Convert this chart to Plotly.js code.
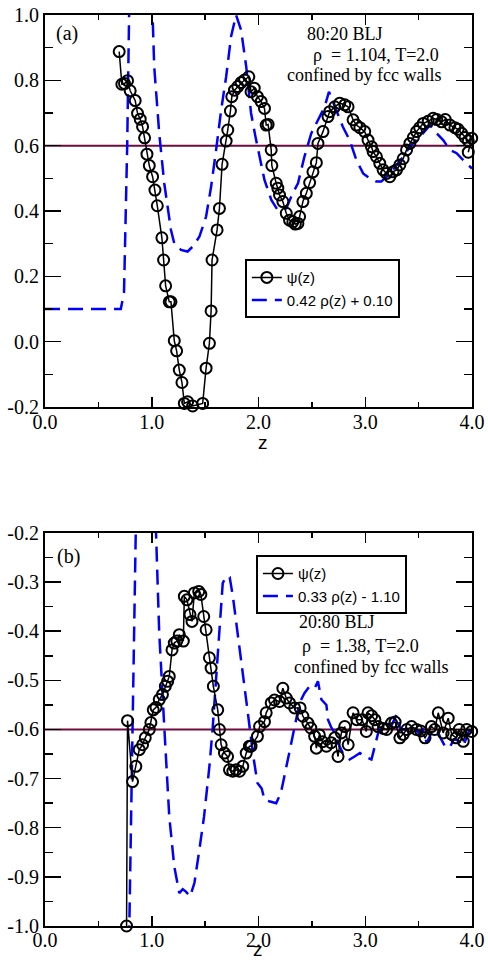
<!DOCTYPE html>
<html>
<head>
<meta charset="utf-8">
<script src="https://cdn.plot.ly/plotly-3.0.1.min.js"></script>
<style>html,body{margin:0;padding:0;background:#fff;}#chart{width:488px;height:962px;}</style>
</head>
<body>
<div id="chart"></div>
<script>
// ---------- Panel (a): 80:20 BLJ ----------
const zPsiA = [0.695,0.72,0.745,0.773,0.798,0.845,0.867,0.892,0.914,0.933,0.955,0.977,1.008,1.03,1.052,1.095,1.111,1.13,1.164,1.18,1.211,1.233,1.258,1.283,1.305,1.336,1.383,1.477,1.509,1.54,1.556,1.565,1.612,1.634,1.659,1.697,1.712,1.737,1.75,1.775,1.806,1.837,1.869,1.909,1.93,1.96,1.99,2.025,2.056,2.072,2.09,2.119,2.125,2.166,2.181,2.197,2.228,2.26,2.291,2.322,2.345,2.369,2.385,2.416,2.448,2.479,2.51,2.542,2.557,2.604,2.651,2.667,2.714,2.761,2.808,2.839,2.886,2.917,2.95,2.995,3.026,3.058,3.073,3.105,3.136,3.167,3.199,3.23,3.26,3.293,3.324,3.355,3.387,3.418,3.45,3.48,3.51,3.543,3.59,3.636,3.67,3.715,3.75,3.793,3.84,3.87,3.903,3.935,3.965,3.997,3.965];
const psiA = [0.888,0.788,0.79,0.799,0.768,0.738,0.699,0.681,0.658,0.624,0.574,0.539,0.505,0.464,0.416,0.318,0.25,0.171,0.122,0.122,0.003,-0.028,-0.087,-0.125,-0.189,-0.184,-0.197,-0.189,-0.081,-0.005,0.094,0.25,0.342,0.408,0.543,0.614,0.648,0.706,0.75,0.77,0.781,0.793,0.801,0.811,0.765,0.776,0.75,0.735,0.714,0.663,0.665,0.587,0.539,0.485,0.47,0.449,0.429,0.393,0.372,0.367,0.36,0.362,0.383,0.429,0.454,0.487,0.52,0.548,0.607,0.643,0.689,0.704,0.719,0.73,0.725,0.719,0.679,0.663,0.655,0.643,0.617,0.597,0.582,0.566,0.546,0.526,0.515,0.505,0.52,0.526,0.541,0.56,0.587,0.607,0.625,0.643,0.655,0.668,0.675,0.684,0.68,0.673,0.68,0.663,0.655,0.65,0.638,0.625,0.615,0.623,0.58];
const zRhoA = [0.0,0.71,0.74,0.77,0.79,0.83,0.9,0.96,1.008,1.023,1.07,1.117,1.18,1.211,1.274,1.336,1.383,1.446,1.509,1.556,1.603,1.65,1.697,1.743,1.79,1.837,1.885,1.93,1.97,2.01,2.056,2.12,2.18,2.26,2.32,2.37,2.43,2.495,2.573,2.62,2.66,2.714,2.79,2.854,2.917,2.98,3.042,3.105,3.15,3.2,3.26,3.355,3.418,3.512,3.606,3.668,3.73,3.793,3.856,3.918,3.98,4.0];
const rhoA = [0.1,0.1,0.15,0.6,1.05,1.6,1.9,1.5,1.0,0.842,0.638,0.485,0.342,0.301,0.281,0.276,0.291,0.321,0.383,0.474,0.587,0.709,0.811,0.934,1.0,0.954,0.842,0.70,0.63,0.566,0.495,0.434,0.403,0.408,0.454,0.485,0.566,0.638,0.689,0.719,0.765,0.719,0.658,0.617,0.556,0.515,0.5,0.49,0.49,0.505,0.526,0.566,0.597,0.627,0.663,0.638,0.617,0.587,0.577,0.556,0.536,0.53];
const refA = 0.6;

// ---------- Panel (b): 20:80 BLJ ----------
const zPsiB = [0.764,0.773,0.82,0.851,0.883,0.914,0.939,0.977,0.992,1.014,1.04,1.07,1.10,1.127,1.149,1.164,1.19,1.211,1.235,1.258,1.296,1.305,1.33,1.358,1.377,1.399,1.44,1.46,1.487,1.509,1.54,1.556,1.577,1.618,1.634,1.65,1.681,1.71,1.728,1.759,1.79,1.822,1.853,1.885,1.915,1.93,1.99,2.01,2.056,2.072,2.119,2.15,2.197,2.228,2.26,2.291,2.338,2.39,2.416,2.463,2.49,2.526,2.542,2.57,2.60,2.636,2.68,2.714,2.745,2.776,2.808,2.84,2.886,2.92,2.97,3.01,3.026,3.06,3.09,3.12,3.17,3.2,3.246,3.28,3.324,3.355,3.39,3.434,3.48,3.52,3.56,3.62,3.65,3.684,3.73,3.777,3.81,3.85,3.88,3.918,3.95,3.997];
const psiB = [-1.0,-0.582,-0.706,-0.675,-0.641,-0.631,-0.617,-0.6,-0.586,-0.56,-0.555,-0.539,-0.529,-0.512,-0.502,-0.492,-0.438,-0.424,-0.42,-0.407,-0.42,-0.329,-0.336,-0.366,-0.38,-0.322,-0.319,-0.325,-0.37,-0.397,-0.454,-0.475,-0.512,-0.56,-0.6,-0.631,-0.648,-0.655,-0.682,-0.685,-0.682,-0.685,-0.675,-0.648,-0.634,-0.634,-0.614,-0.594,-0.584,-0.566,-0.546,-0.54,-0.543,-0.516,-0.536,-0.546,-0.556,-0.556,-0.573,-0.587,-0.597,-0.614,-0.638,-0.611,-0.625,-0.634,-0.627,-0.617,-0.655,-0.607,-0.594,-0.631,-0.566,-0.58,-0.58,-0.604,-0.566,-0.572,-0.58,-0.594,-0.598,-0.6,-0.587,-0.585,-0.617,-0.61,-0.6,-0.594,-0.6,-0.603,-0.617,-0.594,-0.6,-0.566,-0.607,-0.577,-0.61,-0.617,-0.6,-0.624,-0.6,-0.604];
const zRhoB = [0.0,0.75,0.79,0.82,0.85,0.9,0.97,1.04,1.07,1.12,1.164,1.211,1.258,1.29,1.32,1.36,1.40,1.446,1.49,1.54,1.57,1.60,1.634,1.665,1.697,1.73,1.76,1.806,1.853,1.90,1.947,1.99,2.03,2.056,2.10,2.166,2.21,2.26,2.307,2.354,2.385,2.43,2.479,2.526,2.557,2.589,2.636,2.651,2.68,2.714,2.75,2.79,2.854,2.9,2.95,3.0,3.058,3.09,3.136,3.2,3.25,3.293,3.33,3.37,3.40,3.45,3.5,3.54,3.575,3.62,3.67,3.70,3.747,3.79,3.83,3.87,3.918,3.965,3.997];
const rhoB = [-1.1,-1.1,-1.0,-0.6,-0.2,0.3,0.3,-0.2,-0.403,-0.605,-0.777,-0.879,-0.933,-0.925,-0.93,-0.94,-0.912,-0.845,-0.777,-0.675,-0.6,-0.505,-0.403,-0.302,-0.288,-0.29,-0.329,-0.404,-0.492,-0.566,-0.648,-0.709,-0.72,-0.743,-0.746,-0.75,-0.729,-0.675,-0.627,-0.58,-0.546,-0.526,-0.512,-0.516,-0.502,-0.539,-0.55,-0.58,-0.595,-0.607,-0.63,-0.648,-0.661,-0.655,-0.648,-0.655,-0.661,-0.634,-0.594,-0.587,-0.59,-0.57,-0.6,-0.6,-0.594,-0.594,-0.607,-0.6,-0.627,-0.607,-0.6,-0.615,-0.634,-0.637,-0.62,-0.622,-0.634,-0.607,-0.59];
const refB = -0.6;

// ---------- Ticks ----------
const xTickVals = [0,1,2,3,4];
const xTickText = ["0.0","1.0","2.0","3.0","4.0"];
const xMinorVals = [0.5,1.5,2.5,3.5];
const yTickValsA = [-0.2,0,0.2,0.4,0.6,0.8,1.0];
const yTickTextA = ["-0.2","0.0","0.2","0.4","0.6","0.8","1.0"];
const yMinorValsA = [-0.1,0.1,0.3,0.5,0.7,0.9];
const yTickValsB = [-1.0,-0.9,-0.8,-0.7,-0.6,-0.5,-0.4,-0.3,-0.2];
const yTickTextB = ["-1.0","-0.9","-0.8","-0.7","-0.6","-0.5","-0.4","-0.3","-0.2"];
const yMinorValsB = [-0.95,-0.85,-0.75,-0.65,-0.55,-0.45,-0.35,-0.25];

const nameA1 = "ψ(z)";
const nameA2 = "0.42 ρ(z) + 0.10";
const nameB2 = "0.33 ρ(z) - 1.10";
const xTitle = "z";

const SERIF = "Liberation Serif";
const SANS = "Liberation Sans";
const MAROON = "#6e0a3e";
const BLUE = "#0000ff";

function refLine(level, xa, ya) {
  return {x: [xTickVals[0], xTickVals[xTickVals.length-1]], y: [level, level], xaxis: xa, yaxis: ya,
    mode: 'lines', line: {color: MAROON, width: 2}, showlegend: false, hoverinfo: 'skip'};
}

const data = [
  refLine(refA, 'x', 'y'),
  {x: zRhoA, y: rhoA, xaxis: 'x', yaxis: 'y', mode: 'lines', name: nameA2, legend: 'legend', legendrank: 2,
   line: {color: BLUE, width: 2.5, dash: '15px,8px'}},
  {x: zPsiA, y: psiA, xaxis: 'x', yaxis: 'y', mode: 'lines+markers', name: nameA1, legend: 'legend', legendrank: 1,
   cliponaxis: false,
   line: {color: 'black', width: 1.5},
   marker: {symbol: 'circle-open', size: 11, color: 'black', line: {width: 2, color: 'black'}}},
  refLine(refB, 'x2', 'y2'),
  {x: zRhoB, y: rhoB, xaxis: 'x2', yaxis: 'y2', mode: 'lines', name: nameB2, legend: 'legend2', legendrank: 2,
   line: {color: BLUE, width: 2.5, dash: '15px,8px'}},
  {x: zPsiB, y: psiB, xaxis: 'x2', yaxis: 'y2', mode: 'lines+markers', name: nameA1, legend: 'legend2', legendrank: 1,
   cliponaxis: false,
   line: {color: 'black', width: 1.5},
   marker: {symbol: 'circle-open', size: 11, color: 'black', line: {width: 2, color: 'black'}}}
];

function xAxis(anchor, standoff) {
  return {anchor: anchor, domain: [0,1], range: [0,4], tickmode: 'array', tickvals: xTickVals, ticktext: xTickText,
    ticks: 'inside', ticklen: 10, tickwidth: 1.5, tickcolor: 'black', showline: true, linewidth: 2, linecolor: 'black',
    mirror: 'allticks', showgrid: false, zeroline: false, ticklabelstandoff: standoff,
    tickfont: {family: SERIF, size: 20, color: 'black'},
    minor: {tickvals: xMinorVals, ticks: 'inside', ticklen: 5, tickwidth: 1.5, tickcolor: 'black', showgrid: false},
    automargin: false};
}
function yAxis(anchor, domain, range, vals, text, minorVals) {
  return {anchor: anchor, domain: domain, range: range, tickmode: 'array', tickvals: vals, ticktext: text,
    ticks: 'inside', ticklen: 16, tickwidth: 1.5, tickcolor: 'black', showline: true, linewidth: 2, linecolor: 'black',
    mirror: 'allticks', showgrid: false, zeroline: false,
    tickfont: {family: SERIF, size: 20, color: 'black'},
    minor: {tickvals: minorVals, ticks: 'inside', ticklen: 8, tickwidth: 1.5, tickcolor: 'black', showgrid: false},
    automargin: false};
}

const txt = (t, xr, yr, x, y, size) => ({text: t, xref: xr, yref: yr, x: x, y: y, showarrow: false,
  xanchor: 'center', yanchor: 'middle', font: {family: SERIF, size: size || 18, color: 'black'}});
const ztitle = (xr, yr, x, y, ya) => ({text: xTitle, xref: xr, yref: yr, x: x, y: y, showarrow: false,
  xanchor: 'center', yanchor: ya, font: {family: SANS, size: 19, color: 'black'}});

const layout = {
  width: 488, height: 962,
  margin: {l: 45, r: 16, t: 15, b: 36},
  paper_bgcolor: 'white', plot_bgcolor: 'white',
  font: {family: SERIF, size: 20, color: 'black'},
  xaxis: xAxis('y', -4),
  yaxis: yAxis('x', [0.5697, 1], [-0.2, 1.0], yTickValsA, yTickTextA, yMinorValsA),
  xaxis2: xAxis('y2', -5),
  yaxis2: yAxis('x2', [0, 0.4314], [-1.0, -0.2], yTickValsB, yTickTextB, yMinorValsB),
  legend: {x: 0.468, y: 0.732, xref: 'paper', yref: 'paper', xanchor: 'left', yanchor: 'top',
    bgcolor: 'white', bordercolor: 'black', borderwidth: 2, font: {family: SANS, size: 15, color: 'black'},
    tracegroupgap: 0},
  legend2: {x: 0.494, y: 0.407, xref: 'paper', yref: 'paper', xanchor: 'left', yanchor: 'top',
    bgcolor: 'white', bordercolor: 'black', borderwidth: 2, font: {family: SANS, size: 15, color: 'black'},
    tracegroupgap: 0},
  annotations: [
    txt('(a)', 'x domain', 'y domain', 0.051, 0.952, 20),
    txt('80:20 BLJ', 'x domain', 'y domain', 0.7026, 0.951),
    txt('ρ\u00a0\u00a0= 1.104, T=2.0', 'x domain', 'y domain', 0.775, 0.898),
    txt('confined by fcc walls', 'x domain', 'y domain', 0.747, 0.846),
    ztitle('x domain', 'y domain', 0.5105, -0.0918, 'middle'),
    txt('(b)', 'x2 domain', 'y2 domain', 0.056, 0.941, 20),
    txt('20:80 BLJ', 'x2 domain', 'y2 domain', 0.683, 0.774),
    txt('ρ\u00a0\u00a0= 1.38, T=2.0', 'x2 domain', 'y2 domain', 0.74, 0.712),
    txt('confined by fcc walls', 'x2 domain', 'y2 domain', 0.763, 0.659),
    ztitle('paper', 'paper', 0.499, -0.0395, 'bottom')
  ]
};

Plotly.newPlot('chart', data, layout, {staticPlot: true, displayModeBar: false});
</script>
</body>
</html>
